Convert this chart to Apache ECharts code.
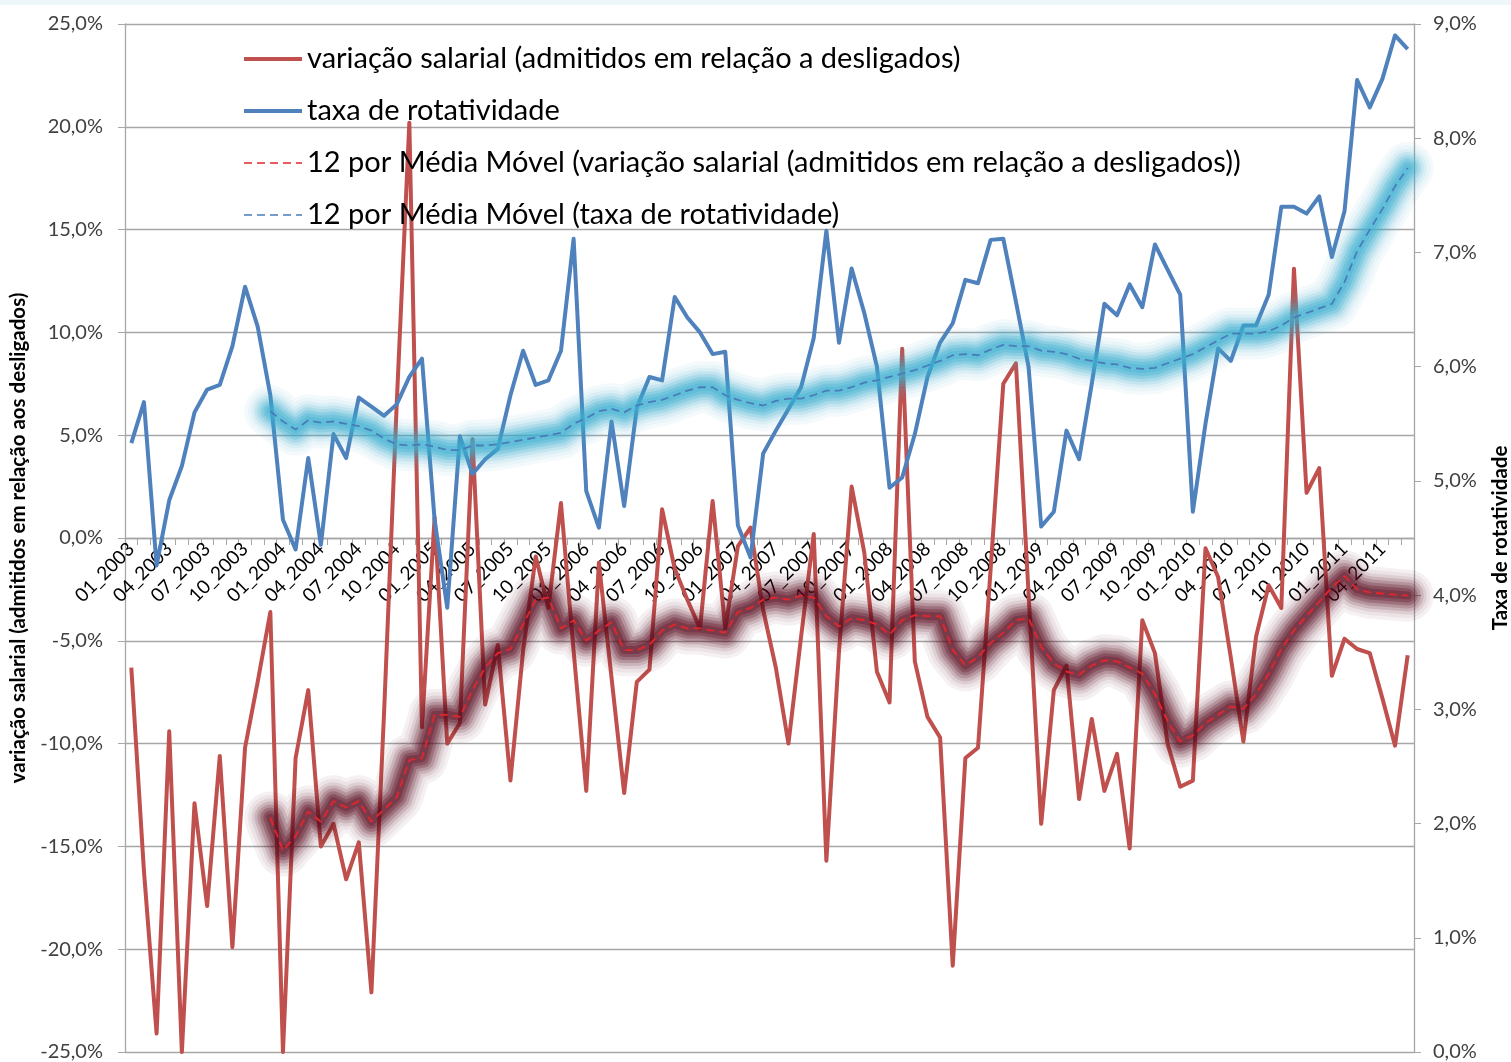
<!DOCTYPE html>
<html>
<head>
<meta charset="utf-8">
<script src="https://cdn.jsdelivr.net/npm/echarts@6/dist/echarts.min.js"></script>
<style>
  html, body { margin: 0; padding: 0; background: #ffffff; }
  #grafico { width: 1511px; height: 1062px; }
</style>
</head>
<body>
<div id="grafico"></div>
<script>
// Meses de jan/2003 a jun/2011 (rótulos no formato MM_AAAA)
const meses = [];
for (let ano = 2003; ano <= 2011; ano++) {
  for (let m = 1; m <= 12; m++) {
    if (ano === 2011 && m > 6) break;
    meses.push(String(m).padStart(2, '0') + '_' + ano);
  }
}

// Variação salarial dos admitidos em relação aos desligados (%), eixo esquerdo
const variacaoSalarial = [
  -6.3, -16.2, -24.1, -9.4, -25.0, -12.9, -17.9, -10.6, -19.9, -10.2,
  -7.0, -3.6, -25.0, -10.7, -7.4, -15.0, -13.9, -16.6, -14.8, -22.1,
  -8.5, 6.5, 20.2, -9.2, 1.0, -10.0, -9.0, 4.8, -8.1, -5.2,
  -11.8, -5.5, -0.9, -3.4, 1.7, -5.5, -12.3, -1.2, -6.8, -12.4,
  -7.0, -6.4, 1.4, -1.5, -3.0, -4.4, 1.8, -4.4, -0.4, 0.5,
  -3.5, -6.3, -10.0, -4.8, 0.2, -15.7, -5.5, 2.5, -0.7, -6.5,
  -8.0, 9.2, -6.0, -8.7, -9.7, -20.8, -10.7, -10.2, -1.5, 7.5,
  8.5, -2.7, -13.9, -7.4, -6.2, -12.7, -8.8, -12.3, -10.5, -15.1,
  -4.0, -5.6, -10.0, -12.1, -11.8, -0.5, -1.9, -5.8, -9.9, -4.8,
  -2.3, -3.4, 13.1, 2.2, 3.4, -6.7, -4.9, -5.4, -5.6, -7.8,
  -10.1, -5.7
];

// Taxa de rotatividade (%), eixo direito
const taxaRotatividade = [
  5.33, 5.69, 4.26, 4.83, 5.13, 5.60, 5.80, 5.84, 6.18, 6.70,
  6.35, 5.75, 4.66, 4.40, 5.20, 4.44, 5.41, 5.20, 5.73, 5.65,
  5.57, 5.67, 5.91, 6.07, 4.66, 3.89, 5.39, 5.06, 5.19, 5.28,
  5.75, 6.14, 5.84, 5.88, 6.14, 7.12, 4.91, 4.59, 5.52, 4.78,
  5.64, 5.91, 5.88, 6.61, 6.43, 6.30, 6.11, 6.13, 4.61, 4.33,
  5.24, 5.44, 5.63, 5.82, 6.25, 7.19, 6.21, 6.86, 6.47, 6.00,
  4.94, 5.03, 5.41, 5.91, 6.21, 6.38, 6.76, 6.73, 7.11, 7.12,
  6.57, 6.00, 4.60, 4.73, 5.44, 5.19, 5.85, 6.55, 6.45, 6.72,
  6.52, 7.07, 6.85, 6.63, 4.73, 5.50, 6.16, 6.05, 6.36, 6.36,
  6.63, 7.40, 7.40, 7.34, 7.49, 6.96, 7.36, 8.51, 8.27, 8.52,
  8.90, 8.78
];

// Médias móveis de 12 meses (a primeira cai em dez/2003)
const inicioMedia = 11;
const mediaVariacao = [
  -13.6, -15.2, -14.5, -13.3, -13.8, -12.8, -13.1, -12.8, -13.8, -13.2,
  -12.6, -10.8, -10.7, -8.6, -8.6, -8.7, -7.4, -6.3, -5.6, -5.4,
  -4.2, -3.0, -2.9, -4.4, -4.0, -5.0, -4.5, -4.1, -5.45, -5.45,
  -5.2, -4.5, -4.2, -4.4, -4.4, -4.5, -4.6, -3.6, -3.4, -3.0,
  -2.9, -3.0, -2.8, -2.9, -3.8, -4.3, -3.9, -4.0, -4.2, -4.7,
  -4.0, -3.75, -3.8, -3.8, -5.45, -6.2, -5.8, -5.1, -4.6, -4.0,
  -3.9, -5.3, -6.1, -6.5, -6.65, -6.2, -5.95, -6.0, -6.3, -6.6,
  -7.6, -8.9, -9.9, -9.6, -9.0, -8.6, -8.2, -8.3, -7.6, -6.6,
  -5.4, -4.5, -3.8, -3.1, -2.4, -1.85, -2.5, -2.65, -2.7, -2.75,
  -2.8
];
const mediaRotatividade = [
  5.61, 5.52, 5.45, 5.53, 5.51, 5.52, 5.50, 5.48, 5.44, 5.37,
  5.32, 5.31, 5.32, 5.30, 5.27, 5.27, 5.31, 5.31, 5.32, 5.34,
  5.36, 5.38, 5.40, 5.42, 5.50, 5.55, 5.61, 5.63, 5.60, 5.66,
  5.69, 5.71, 5.75, 5.79, 5.82, 5.82, 5.75, 5.71, 5.68, 5.66,
  5.70, 5.72, 5.72, 5.75, 5.79, 5.79, 5.82, 5.86, 5.88, 5.91,
  5.94, 5.97, 6.01, 6.05, 6.10, 6.11, 6.10, 6.15, 6.19, 6.18,
  6.18, 6.14, 6.13, 6.11, 6.07, 6.05, 6.03, 6.02, 5.99, 5.98,
  5.99, 6.03, 6.07, 6.11, 6.17, 6.23, 6.29, 6.29, 6.29, 6.31,
  6.36, 6.43, 6.47, 6.51, 6.55, 6.74, 7.01, 7.20, 7.38, 7.58,
  7.74
];

// Escalas dos eixos
const eixoEsq = { min: -25, max: 25, passo: 5 };
const eixoDir = { min: 0, max: 9, passo: 1 };

const nomes = {
  variacao: 'variação salarial (admitidos em relação a desligados)',
  taxa: 'taxa de rotatividade',
  mediaVariacao: '12 por Média Móvel (variação salarial (admitidos em relação a desligados))',
  mediaTaxa: '12 por Média Móvel (taxa de rotatividade)'
};

const fonte = 'Lato, "Open Sans", sans-serif';
const cinza = '#A6A6A6';
const vermelho = '#C0504D';
const azul = '#4F81BD';
const vermelhoMedia = '#E3262B';
const azulMedia = '#4A7CB8';

// Área de plotagem
const area = { left: 125, right: 97, top: 24, bottom: 10 };
const alturaArea = 1062 - area.top - area.bottom;
// eixo das categorias passa pelo zero do eixo esquerdo
const deslocZero = -alturaArea * (0 - eixoEsq.min) / (eixoEsq.max - eixoEsq.min);

const pad = arr => new Array(inicioMedia).fill(null).concat(arr);
const pct = v => v.toFixed(1).replace('.', ',') + '%';

// Halo difuso das médias: faixas concêntricas translúcidas, da mais larga à mais estreita
const camadasHalo = [
  { largura: 52, alfa: 0.06 },
  { largura: 45, alfa: 0.06 },
  { largura: 38, alfa: 0.09 },
  { largura: 32, alfa: 0.13 },
  { largura: 26, alfa: 0.17 },
  { largura: 20, alfa: 0.23 },
  { largura: 14, alfa: 0.28 },
  { largura: 8, alfa: 0.32 }
];
const halo = (nome, eixo, dados, rgb) => camadasHalo.map((c, k) => ({
  name: nome + ' ' + (k + 1),
  type: 'line',
  yAxisIndex: eixo,
  data: pad(dados),
  symbol: 'none',
  silent: true,
  lineStyle: {
    color: 'rgba(' + rgb + ',' + c.alfa + ')',
    width: c.largura, cap: 'round', join: 'round',
    shadowBlur: 6, shadowColor: 'rgba(' + rgb + ',' + (c.alfa * 0.5).toFixed(3) + ')'
  },
  z: 3
}));

const grafico = echarts.init(document.getElementById('grafico'), null, { renderer: 'canvas' });

grafico.setOption({
  animation: false,
  backgroundColor: '#ffffff',
  graphic: [{
    type: 'rect', left: 0, top: 0, z: -10,
    shape: { width: 1511, height: 5 },
    style: { fill: '#EDF7FA' }
  }],
  grid: {
    left: area.left, right: area.right, top: area.top, bottom: area.bottom,
    containLabel: false,
    outerBoundsMode: 'none'
  },
  legend: {
    orient: 'vertical',
    left: 237,
    top: 39,
    itemWidth: 58,
    itemHeight: 14,
    itemGap: 22,
    itemStyle: { opacity: 0 },
    data: [
      { name: nomes.variacao, lineStyle: { width: 4, color: vermelho } },
      { name: nomes.taxa, lineStyle: { width: 4, color: azul } },
      { name: nomes.mediaVariacao, lineStyle: { width: 1.5, color: vermelhoMedia } },
      { name: nomes.mediaTaxa, lineStyle: { width: 1.5, color: azulMedia } }
    ],
    textStyle: { fontFamily: fonte, fontSize: 29, color: '#000', lineHeight: 30 },
    lineStyle: { shadowBlur: 0, shadowColor: 'rgba(0,0,0,0)' }
  },
  xAxis: {
    type: 'category',
    data: meses,
    boundaryGap: true,
    position: 'bottom',
    offset: deslocZero,
    axisLine: { onZero: false, lineStyle: { color: cinza, width: 1.3 } },
    axisTick: { show: true, interval: 0, length: 7, lineStyle: { color: cinza } },
    axisLabel: {
      interval: i => i % 3 === 0,
      rotate: 45,
      margin: 8,
      fontFamily: fonte,
      fontSize: 19,
      color: '#000'
    },
    splitLine: { show: false }
  },
  yAxis: [{
    type: 'value',
    position: 'left',
    min: eixoEsq.min, max: eixoEsq.max, interval: eixoEsq.passo,
    name: 'variação salarial (admitidos em relação aos desligados)',
    nameLocation: 'middle',
    nameRotate: 90,
    nameGap: 94,
    nameTextStyle: { fontFamily: fonte, fontWeight: 'bold', fontSize: 20.5, color: '#000' },
    axisLine: { show: true, lineStyle: { color: cinza, width: 1.3 } },
    axisTick: { show: true, length: 7, lineStyle: { color: cinza } },
    axisLabel: { formatter: pct, fontFamily: fonte, fontSize: 20, color: '#404040', margin: 22 },
    splitLine: { show: true, lineStyle: { color: cinza, width: 1.3 } }
  }, {
    type: 'value',
    position: 'right',
    min: eixoDir.min, max: eixoDir.max, interval: eixoDir.passo,
    name: 'Taxa de rotatividade',
    nameLocation: 'middle',
    nameRotate: 90,
    nameGap: 76,
    nameTextStyle: { fontFamily: fonte, fontWeight: 'bold', fontSize: 20.5, color: '#000' },
    axisLine: { show: true, lineStyle: { color: cinza, width: 1.3 } },
    axisTick: { show: true, length: 7, lineStyle: { color: cinza } },
    axisLabel: { formatter: pct, fontFamily: fonte, fontSize: 20, color: '#404040', margin: 19 },
    splitLine: { show: false }
  }],
  series: [{
    name: nomes.variacao,
    type: 'line',
    yAxisIndex: 0,
    data: variacaoSalarial,
    symbol: 'none',
    lineStyle: { color: vermelho, width: 4, join: 'round' },
    itemStyle: { color: vermelho },
    z: 2
  }, {
    name: nomes.taxa,
    type: 'line',
    yAxisIndex: 1,
    data: taxaRotatividade,
    symbol: 'none',
    lineStyle: { color: azul, width: 4, join: 'round' },
    itemStyle: { color: azul },
    z: 2
  },
  ...halo('halo média salarial', 0, mediaVariacao, '92,14,34'),
  {
    name: nomes.mediaVariacao,
    type: 'line',
    yAxisIndex: 0,
    data: pad(mediaVariacao),
    symbol: 'none',
    lineStyle: { color: vermelhoMedia, width: 1.8, type: [8, 5] },
    itemStyle: { color: vermelhoMedia },
    z: 4
  },
  ...halo('halo média rotatividade', 1, mediaRotatividade, '62,176,210'),
  {
    name: nomes.mediaTaxa,
    type: 'line',
    yAxisIndex: 1,
    data: pad(mediaRotatividade),
    symbol: 'none',
    lineStyle: { color: azulMedia, width: 1.8, type: [8, 5] },
    itemStyle: { color: azulMedia },
    z: 4
  }]
});
</script>
</body>
</html>
